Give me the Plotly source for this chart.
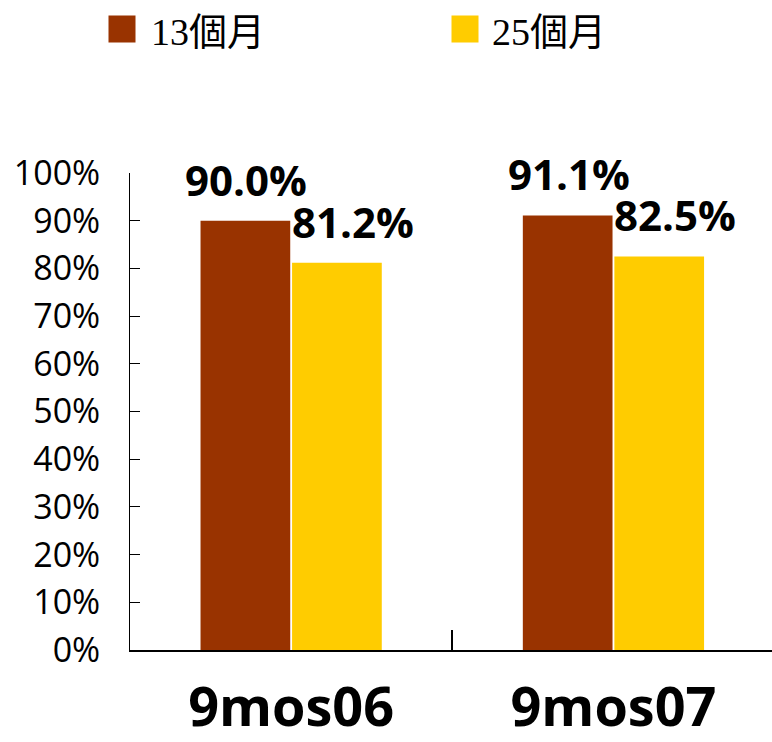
import plotly.graph_objects as go

# Chart data
categories = ["9mos06", "9mos07"]
series_names = ["13個月", "25個月"]
series_values = [
    [0.900, 0.911],   # 13個月
    [0.812, 0.825],   # 25個月
]
series_colors = ["#993300", "#FFCC00"]
y_tick_values = [i / 10 for i in range(11)]
y_tick_labels = [f"{i * 10}%" for i in range(11)]

BARGAP = 0.432
GROUPGAP = 0.02
label_xshift = [1, 16]

x_pos = list(range(len(categories)))
bar_w = (1 - BARGAP) / len(series_values)

fig = go.Figure()
for k, (name, vals, col) in enumerate(zip(series_names, series_values, series_colors)):
    fig.add_trace(go.Bar(
        x=x_pos, y=vals, name=name, marker=dict(color=col, line_width=0),
        showlegend=False,
    ))
    # value labels placed above each bar
    offset = (k - (len(series_values) - 1) / 2) * bar_w
    for xi, v in zip(x_pos, vals):
        fig.add_annotation(
            x=xi + offset, y=v, xref="x", yref="y",
            text=f"{v * 100:.1f}%", showarrow=False,
            yanchor="bottom", xanchor="center", yshift=11, xshift=label_xshift[k],
            font=dict(family="Open Sans", size=42, color="black", weight="bold"),
        )

# legend: colored square + series name for each series
legend_box_x = [-0.0132, 0.5218]
legend_text_x = [0.0296, 0.5607]
for name, col, bx, tx in zip(series_names, series_colors, legend_box_x, legend_text_x):
    fig.add_annotation(
        x=bx, y=1.302, xref="paper", yref="paper", xanchor="center", yanchor="middle",
        showarrow=False, text=" ", width=26, height=26, bgcolor=col, borderpad=0,
        font=dict(size=2),
    )
    fig.add_annotation(
        x=tx, y=1.2956, xref="paper", yref="paper", xanchor="left", yanchor="middle",
        showarrow=False, text=name,
        font=dict(family="Liberation Serif, Noto Sans CJK TC", size=38, color="black"),
    )

fig.update_layout(
    width=772, height=742,
    margin=dict(l=130, r=0, t=173, b=92),
    paper_bgcolor="white", plot_bgcolor="white",
    bargap=BARGAP, bargroupgap=GROUPGAP, barmode="group",
    xaxis=dict(
        range=[-0.5, -0.5 + 642 / 322.3], automargin=False,
        tickvals=x_pos, ticktext=categories, ticks="",
        showline=True, linecolor="black", linewidth=2,
        showgrid=False, zeroline=False,
        tickfont=dict(family="Open Sans", size=54, color="black", weight="bold"),
        ticklabelstandoff=9,
    ),
    xaxis2=dict(
        overlaying="x", matches="x", side="bottom", anchor="y", automargin=False,
        tickvals=[-0.5, 0.5, 1.5], ticks="inside", ticklen=20, tickwidth=1.5,
        tickcolor="black", showticklabels=False, showgrid=False,
        zeroline=False, showline=False,
    ),
    yaxis=dict(
        range=[0, 1], tickvals=y_tick_values, ticktext=y_tick_labels, automargin=False,
        ticks="inside", ticklen=10, tickwidth=1, tickcolor="black",
        showline=True, linecolor="black", linewidth=1,
        showgrid=False, zeroline=False,
        tickfont=dict(family="Open Sans", size=34, color="black"),
        ticklabelstandoff=22,
    ),
)
# invisible trace to activate the secondary x axis
fig.add_trace(go.Scatter(x=[None], y=[None], xaxis="x2", showlegend=False, hoverinfo="skip"))

fig.write_html("out.html")
